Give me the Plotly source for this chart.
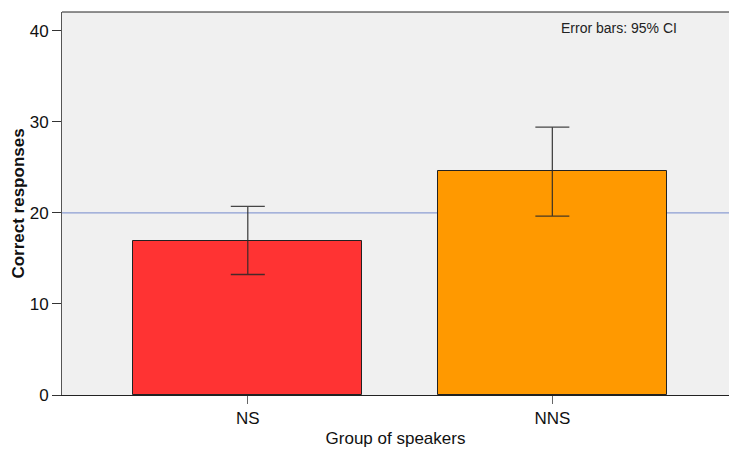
import plotly.graph_objects as go

groups = ["NS", "NNS"]
means = [16.92, 24.55]
ci_upper = [20.70, 29.42]
ci_lower = [13.23, 19.64]
bar_colors = ["#FF3333", "#FF9900"]
reference_value = 20
y_ticks = [0, 10, 20, 30, 40]

err_plus = [u - m for u, m in zip(ci_upper, means)]
err_minus = [m - l for m, l in zip(means, ci_lower)]

fig = go.Figure()
fig.add_trace(go.Bar(
    x=groups,
    y=means,
    width=0.752,
    marker=dict(color=bar_colors, line=dict(color="#222222", width=1)),
    error_y=dict(type="data", symmetric=False, array=err_plus, arrayminus=err_minus,
                 color="rgba(40,40,40,0.85)", thickness=1.3, width=17),
    showlegend=False,
))

fig.add_shape(type="line", xref="paper", x0=0, x1=1, yref="y",
              y0=reference_value, y1=reference_value,
              line=dict(color="#8C9ED3", width=1.3), layer="below")

fig.add_annotation(text="Error bars: 95% CI", xref="paper", yref="paper",
                   x=0.835, y=0.9595, xanchor="center", yanchor="middle",
                   showarrow=False, font=dict(size=14, color="#222222",
                                              family="Liberation Sans, Arial"))

fig.update_layout(
    width=729, height=449,
    margin=dict(l=62, r=0, t=12, b=54),
    plot_bgcolor="#F0F0F0",
    paper_bgcolor="white",
    font=dict(family="Liberation Sans, Arial", color="#111111"),
    bargap=0,
)
fig.update_xaxes(
    range=[-0.61, 1.58],
    showline=True, linecolor="#222222", linewidth=1, mirror=False,
    ticks="outside", ticklen=8, tickcolor="#666666",
    tickfont=dict(size=17),
    title=dict(text="Group of speakers", font=dict(size=17), standoff=4),
    showgrid=False,
)
fig.update_yaxes(
    range=[0, 42.05],
    tickvals=y_ticks,
    showline=True, linecolor="#555555", linewidth=1,
    ticks="outside", ticklen=9, tickcolor="#333333",
    tickfont=dict(size=17),
    title=dict(text="<b>Correct responses</b>", font=dict(size=17), standoff=0),
    showgrid=False, zeroline=False,
)
# top frame line
fig.add_shape(type="line", xref="paper", yref="paper", x0=0, x1=1, y0=1, y1=1,
              line=dict(color="#222222", width=1))

fig.write_html("out.html")
